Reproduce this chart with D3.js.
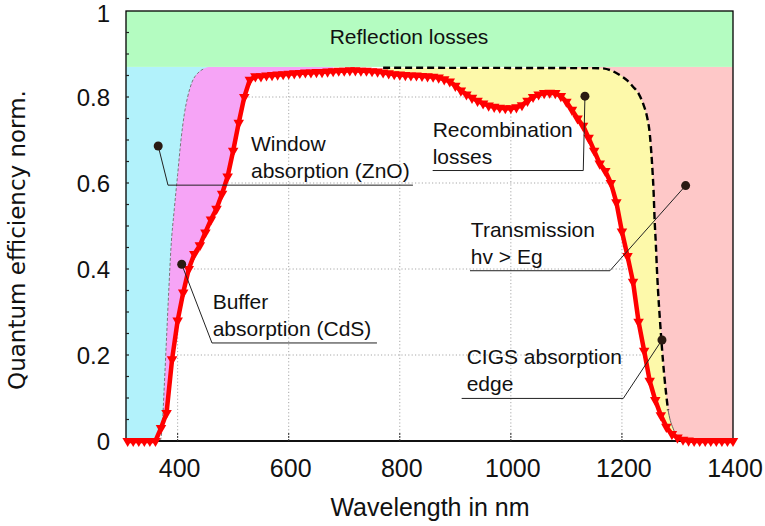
<!DOCTYPE html>
<html>
<head>
<meta charset="utf-8">
<script src="https://cdn.jsdelivr.net/npm/d3@7/dist/d3.min.js"></script>
<style>
  body { margin: 0; background: #fff; }
  svg { display: block; }
  text { font-family: "Liberation Sans", Arial, sans-serif; fill: #111; }
</style>
</head>
<body>
<svg id="chart" width="765" height="526"></svg>
<script>
// Measured external quantum efficiency of the cell, sampled every 10 nm
const wavelength = [
  310, 320, 330, 340, 350, 360, 370, 380, 390, 400,
  410, 420, 430, 440, 450, 460, 470, 480, 490, 500,
  510, 520, 530, 540, 550, 560, 570, 580, 590, 600,
  610, 620, 630, 640, 650, 660, 670, 680, 690, 700,
  710, 720, 730, 740, 750, 760, 770, 780, 790, 800,
  810, 820, 830, 840, 850, 860, 870, 880, 890, 900,
  910, 920, 930, 940, 950, 960, 970, 980, 990, 1000,
  1010, 1020, 1030, 1040, 1050, 1060, 1070, 1080, 1090, 1100,
  1110, 1120, 1130, 1140, 1150, 1160, 1170, 1180, 1190, 1200,
  1210, 1220, 1230, 1240, 1250, 1260, 1270, 1280, 1290, 1300,
  1310, 1320, 1330, 1340, 1350, 1360, 1370, 1380, 1390, 1400
];
const quantumEfficiency = [
  0, 0, 0, 0, 0, 0, 0.03, 0.065, 0.19, 0.28,
  0.345, 0.40, 0.435, 0.455, 0.485, 0.515, 0.54, 0.575, 0.615, 0.675,
  0.74, 0.80, 0.84, 0.848, 0.848, 0.850, 0.851, 0.852, 0.853, 0.854,
  0.855, 0.856, 0.857, 0.857, 0.858, 0.858, 0.859, 0.860, 0.861, 0.861,
  0.862, 0.862, 0.861, 0.861, 0.860, 0.859, 0.857, 0.855, 0.853, 0.852,
  0.851, 0.850, 0.850, 0.849, 0.848, 0.847, 0.845, 0.841, 0.836, 0.826,
  0.815, 0.806, 0.798, 0.791, 0.785, 0.780, 0.777, 0.775, 0.774, 0.774,
  0.776, 0.781, 0.791, 0.800, 0.806, 0.809, 0.810, 0.809, 0.802, 0.789,
  0.770, 0.750, 0.733, 0.705, 0.675, 0.645, 0.628, 0.600, 0.555, 0.487,
  0.430, 0.370, 0.277, 0.210, 0.140, 0.095, 0.060, 0.033, 0.016, 0.008,
  0.003, 0.001, 0, 0, 0, 0, 0, 0, 0, 0
];

// Transmission edge of the ZnO window layer
const windowWavelength = [360, 368, 372, 376, 380, 384, 388, 394, 400, 406, 412, 418, 426, 436, 446, 456, 680];
const windowEdge       = [0, 0, 0.03, 0.13, 0.24, 0.35, 0.45, 0.54, 0.62, 0.70, 0.76, 0.80, 0.835, 0.855, 0.865, 0.87, 0.87];

// Absorption edge of the CIGS absorber
const cigsWavelength = [770, 1160, 1180, 1196, 1210, 1220, 1230, 1238, 1245, 1250, 1254, 1257, 1259, 1261, 1263, 1265, 1268, 1271, 1274, 1277, 1280, 1283, 1287, 1292, 1298, 1305];
const cigsEdge       = [0.868, 0.867, 0.862, 0.851, 0.838, 0.824, 0.808, 0.785, 0.755, 0.716, 0.65, 0.58, 0.51, 0.46, 0.40, 0.35, 0.29, 0.235, 0.185, 0.142, 0.105, 0.072, 0.048, 0.03, 0.012, 0];

// Share of light lost by reflection at the front surface
const reflectionLevel = 0.87;

const xTicks = [400, 600, 800, 1000, 1200, 1400];
const yTicks = [0, 0.2, 0.4, 0.6, 0.8, 1];
const yTickLabels = ["0", "0.2", "0.4", "0.6", "0.8", "1"];
const gridX = [400, 600, 800, 1000, 1200];
const gridY = [0.2, 0.4, 0.6, 0.8];

// Loss mechanisms, each with a pointer into its region of the plot
const callouts = [
  { lines: ["Window", "absorption (ZnO)"], dot: [365, 0.686], elbow: [382.6, 0.595], end: 823.7, textAt: 532 },
  { lines: ["Buffer", "absorption (CdS)"], dot: [407.3, 0.411], elbow: [461.8, 0.228], end: 758.9, textAt: 463 },
  { lines: ["Recombination", "losses"], dot: [1133.4, 0.802], elbow: [1130.4, 0.629], end: 859.2, textAt: 859.2 },
  { lines: ["Transmission", "hv > Eg"], dot: [1314.7, 0.594], elbow: [1178.4, 0.396], end: 926.4, textAt: 928 },
  { lines: ["CIGS absorption", "edge"], dot: [1272.1, 0.235], elbow: [1202.4, 0.099], end: 911.4, textAt: 920.4 }
];

const colors = {
  reflection: "#b4fcc1",
  window: "#b2f2fb",
  buffer: "#f6a4f6",
  transmission: "#fec8c8",
  recombination: "#fdf9aa",
  eqe: "#ff0000"
};

const svg = d3.select("#chart");
const x = d3.scaleLinear().domain([307, 1400]).range([126, 733]);
const y = d3.scaleLinear().domain([0, 1]).range([441, 11]);

const eqe = wavelength.map((w, i) => ({ w, q: quantumEfficiency[i] }));
const win = windowWavelength.map((w, i) => ({ w, q: windowEdge[i] }));
const cigs = cigsWavelength.map((w, i) => ({ w, q: cigsEdge[i] }));

const areaUnder = d3.area().x(d => x(d.w)).y0(y(0)).y1(d => y(d.q));
const lineOf = d3.line().x(d => x(d.w)).y(d => y(d.q));

// Window-layer loss: left of the ZnO edge
svg.append("rect")
  .attr("x", x(307)).attr("y", y(reflectionLevel))
  .attr("width", x(460) - x(307)).attr("height", y(0) - y(reflectionLevel))
  .attr("fill", colors.window);

// Transmission loss: right of the CIGS edge
svg.append("rect")
  .attr("x", x(1100)).attr("y", y(reflectionLevel))
  .attr("width", x(1400) - x(1100)).attr("height", y(0) - y(reflectionLevel))
  .attr("fill", colors.transmission);

// Buffer absorption between the window edge and the EQE
svg.append("path").datum(win).attr("d", areaUnder.curve(d3.curveMonotoneX)).attr("fill", colors.buffer);

// Recombination between the absorption edge and the EQE
svg.append("path").datum(cigs).attr("d", areaUnder.curve(d3.curveMonotoneX)).attr("fill", colors.recombination);

// Collected fraction
areaUnder.curve(d3.curveLinear);
svg.append("path").datum(eqe).attr("d", areaUnder).attr("fill", "#fff");

// Grid lines only inside the collected area
svg.append("clipPath").attr("id", "collected")
  .append("path").datum(eqe).attr("d", areaUnder);
const grid = svg.append("g").attr("clip-path", "url(#collected)")
  .attr("stroke", "#a8a8a8").attr("stroke-width", 1).attr("stroke-dasharray", "1.2,2.2");
grid.selectAll("line.gx").data(gridX).join("line")
  .attr("x1", d => x(d)).attr("x2", d => x(d)).attr("y1", y(1)).attr("y2", y(0));
grid.selectAll("line.gy").data(gridY).join("line")
  .attr("x1", x(307)).attr("x2", x(1400)).attr("y1", d => y(d)).attr("y2", d => y(d));

// Reflection band
svg.append("rect")
  .attr("x", x(307)).attr("y", y(1))
  .attr("width", x(1400) - x(307)).attr("height", y(reflectionLevel) - y(1))
  .attr("fill", colors.reflection);
svg.append("text").attr("x", 409).attr("y", 44.3)
  .attr("text-anchor", "middle").attr("font-size", 21)
  .text("Reflection losses");

// Edge curves
svg.append("path").datum(win.filter(d => d.w <= 446))
  .attr("d", lineOf.curve(d3.curveMonotoneX))
  .attr("fill", "none").attr("stroke", "#777").attr("stroke-width", 1).attr("stroke-dasharray", "3,2");
svg.append("path").datum(cigs.filter(d => d.w >= 1283))
  .attr("d", lineOf.curve(d3.curveMonotoneX))
  .attr("fill", "none").attr("stroke", "#666").attr("stroke-width", 1);
svg.append("path").datum(cigs.filter(d => d.w <= 1283))
  .attr("d", lineOf.curve(d3.curveMonotoneX))
  .attr("fill", "none").attr("stroke", "#000").attr("stroke-width", 2.4).attr("stroke-dasharray", "7,4");

// Frame and inner ticks
svg.append("rect").attr("x", x(307)).attr("y", y(1))
  .attr("width", x(1400) - x(307)).attr("height", y(0) - y(1))
  .attr("fill", "none").attr("stroke", "#000").attr("stroke-width", 1.3);
svg.append("line").attr("x1", x(307)).attr("x2", x(1400)).attr("y1", y(0)).attr("y2", y(0))
  .attr("stroke", "#111").attr("stroke-width", 2);
svg.append("g").selectAll("line").data(xTicks.slice(0, -1)).join("line")
  .attr("x1", d => x(d)).attr("x2", d => x(d)).attr("y1", y(0)).attr("y2", y(0) - 9)
  .attr("stroke", "#333").attr("stroke-width", 1).attr("stroke-dasharray", "2,1");
svg.append("g").selectAll("line").data(d3.range(0.05, 1, 0.05)).join("line")
  .attr("x1", x(307)).attr("x2", x(307) + 3).attr("y1", d => y(d)).attr("y2", d => y(d))
  .attr("stroke", "#222").attr("stroke-width", 1.2);

// EQE curve with triangle markers
svg.append("path").datum(eqe).attr("d", lineOf.curve(d3.curveLinear))
  .attr("fill", "none").attr("stroke", colors.eqe).attr("stroke-width", 4.5).attr("stroke-linejoin", "round");
const tri = d3.symbol().type(d3.symbolTriangle).size(48);
svg.append("g").selectAll("path").data(eqe).join("path")
  .attr("d", tri)
  .attr("transform", d => `translate(${x(d.w)},${y(d.q)}) rotate(180)`)
  .attr("fill", colors.eqe);

// Axis labels
svg.append("g").selectAll("text").data(xTicks).join("text")
  .attr("x", d => x(d) + 2).attr("y", 477).attr("text-anchor", "middle").attr("font-size", 25)
  .text(d => d);
svg.append("g").selectAll("text").data(yTicks).join("text")
  .attr("x", 110).attr("y", d => Math.max(y(d) + 9, 22)).attr("text-anchor", "end").attr("font-size", 24)
  .text((d, i) => yTickLabels[i]);
svg.append("text").attr("x", 430).attr("y", 516).attr("text-anchor", "middle").attr("font-size", 25)
  .text("Wavelength in nm");
svg.append("text").attr("transform", "translate(25,240) rotate(-90)")
  .attr("text-anchor", "middle").attr("font-size", 23)
  .style("font-family", "'DejaVu Sans', Verdana, sans-serif")
  .text("Quantum efficiency norm.");

// Callouts
const cg = svg.append("g");
callouts.forEach(c => {
  const pts = [[x(c.dot[0]), y(c.dot[1])], [x(c.elbow[0]), y(c.elbow[1])], [x(c.end), y(c.elbow[1])]];
  cg.append("path").attr("d", d3.line()(pts))
    .attr("fill", "none").attr("stroke", "#222").attr("stroke-width", 1);
  cg.append("circle").attr("cx", pts[0][0]).attr("cy", pts[0][1]).attr("r", 4.5).attr("fill", "#2a1a12");
  const ly = y(c.elbow[1]);
  const offsets = [-34, -7];
  c.lines.forEach((t, i) => {
    cg.append("text").attr("x", x(c.textAt)).attr("y", ly + offsets[i]).attr("font-size", 21).text(t);
  });
});
</script>
</body>
</html>
